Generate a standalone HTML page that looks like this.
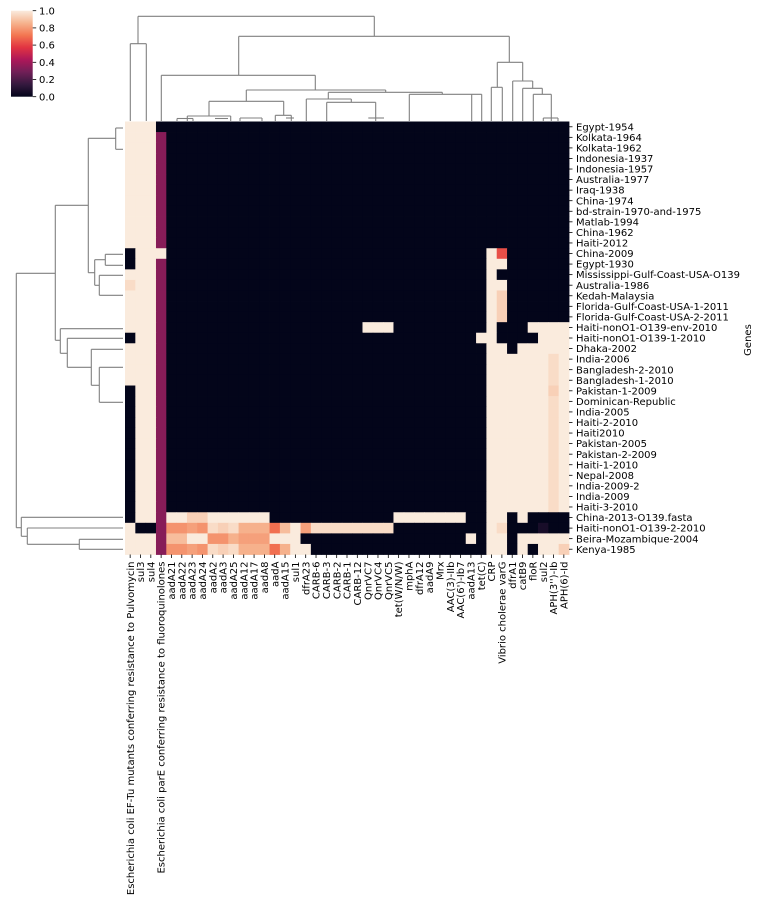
<!DOCTYPE html>
<html><head><meta charset="utf-8">
<style>
html,body{margin:0;padding:0;background:#fff;}
svg{display:block;font-family:"DejaVu Sans","Liberation Sans",sans-serif;}
</style></head>
<body>
<svg id="chart" width="761" height="905" viewBox="0 0 761 905" xmlns="http://www.w3.org/2000/svg">
  <defs>
    <linearGradient id="cbgrad" x1="0" y1="1" x2="0" y2="0">
      <stop offset="0" stop-color="#03051a"/>
      <stop offset="0.143" stop-color="#35193e"/>
      <stop offset="0.286" stop-color="#701f57"/>
      <stop offset="0.429" stop-color="#ad1759"/>
      <stop offset="0.571" stop-color="#e13342"/>
      <stop offset="0.714" stop-color="#f37651"/>
      <stop offset="0.857" stop-color="#f6b48f"/>
      <stop offset="1" stop-color="#faebdd"/>
    </linearGradient>
  </defs>
  <g id="colorbar">
    <rect x="11" y="10.7" width="21.7" height="86" fill="url(#cbgrad)"/>
  </g>
  <g id="heatmap"></g>
  <g id="rowlabels"></g>
  <g id="collabels"></g>
  <g id="topdendro" stroke="#808080" stroke-width="1.1" fill="none"></g>
  <g id="leftdendro" stroke="#808080" stroke-width="1.1" fill="none"></g>
  <text x="751" y="340" font-size="10" text-anchor="middle" transform="rotate(-90 751 340)" fill="#000">Genes</text>
</svg>
<script>
const rowLabels = ["Egypt-1954","Kolkata-1964","Kolkata-1962","Indonesia-1937","Indonesia-1957","Australia-1977","Iraq-1938","China-1974","bd-strain-1970-and-1975","Matlab-1994","China-1962","Haiti-2012","China-2009","Egypt-1930","Mississippi-Gulf-Coast-USA-O139","Australia-1986","Kedah-Malaysia","Florida-Gulf-Coast-USA-1-2011","Florida-Gulf-Coast-USA-2-2011","Haiti-nonO1-O139-env-2010","Haiti-nonO1-O139-1-2010","Dhaka-2002","India-2006","Bangladesh-2-2010","Bangladesh-1-2010","Pakistan-1-2009","Dominican-Republic","India-2005","Haiti-2-2010","Haiti2010","Pakistan-2005","Pakistan-2-2009","Haiti-1-2010","Nepal-2008","India-2009-2","India-2009","Haiti-3-2010","China-2013-O139.fasta","Haiti-nonO1-O139-2-2010","Beira-Mozambique-2004","Kenya-1985"];
const colLabels = ["Escherichia coli EF-Tu mutants conferring resistance to Pulvomycin","sul3","sul4","Escherichia coli parE conferring resistance to fluoroquinolones","aadA21","aadA22","aadA23","aadA24","aadA2","aadA3","aadA25","aadA12","aadA17","aadA8","aadA","aadA15","sul1","dfrA23","CARB-6","CARB-3","CARB-2","CARB-1","CARB-12","QnrVC7","QnrVC4","QnrVC5","tet(W/N/W)","mphA","dfrA12","aadA9","Mrx","AAC(3)-IIb","AAC(6')-Ib7","aadA13","tet(C)","CRP","Vibrio cholerae varG","dfrA1","catB9","floR","sul2","APH(3'')-Ib","APH(6)-Id"];
const cellCodes = {"0":0,"s":0.06,"p":0.34,"r":0.63,"k":0.70,"o":0.78,"h":0.81,"q":0.85,"t":0.88,"n":0.93,"m":0.96,"L":1};
const Z = "0";
const rowData = [
"LLL0"+Z.repeat(39),
"LLLp"+Z.repeat(39),"LLLp"+Z.repeat(39),"LLLp"+Z.repeat(39),"LLLp"+Z.repeat(39),"LLLp"+Z.repeat(39),
"LLLp"+Z.repeat(39),"LLLp"+Z.repeat(39),"LLLp"+Z.repeat(39),"LLLp"+Z.repeat(39),"LLLp"+Z.repeat(39),
"LLLp"+Z.repeat(39),
"0LLL"+Z.repeat(31)+"Lr000000",
"0LLp"+Z.repeat(31)+"LL000000",
"LLLp"+Z.repeat(31)+"L0000000",
"mLLp"+Z.repeat(31)+"LL000000",
"LLLp"+Z.repeat(31)+"Ln000000",
"LLLp"+Z.repeat(31)+"Ln000000",
"LLLp"+Z.repeat(31)+"Ln000000",
"LLLp"+Z.repeat(19)+"LLL"+Z.repeat(9)+"L000LLLL",
"0LLp"+Z.repeat(30)+"L"+"L0000LLL",
"LLLp"+Z.repeat(31)+"LL0LLLLL",
"LLLp"+Z.repeat(31)+"LLLLLLmL",
"LLLp"+Z.repeat(31)+"LLLLLLmL",
"LLLp"+Z.repeat(31)+"LLLLLLmL",
"0LLp"+Z.repeat(31)+"LLLLLLnL",
"0LLp"+Z.repeat(31)+"LLLLLLmL","0LLp"+Z.repeat(31)+"LLLLLLmL","0LLp"+Z.repeat(31)+"LLLLLLmL",
"0LLp"+Z.repeat(31)+"LLLLLLmL","0LLp"+Z.repeat(31)+"LLLLLLmL","0LLp"+Z.repeat(31)+"LLLLLLmL",
"0LLp"+Z.repeat(31)+"LLLLLLmL","0LLp"+Z.repeat(31)+"LLLLLLmL","0LLp"+Z.repeat(31)+"LLLLLLmL",
"0LLp"+Z.repeat(31)+"LLLLLLmL","0LLp"+Z.repeat(31)+"LLLLLLmL",
"0LLp"+"LLnnLLLLLL"+Z.repeat(12)+"LLLLLLL"+"00"+"LL0L0000",
"L00p"+"oohomnmqqqktLh"+"mmmmmmmm"+Z.repeat(9)+"Lm000s00",
"LLLp"+"ttLLooqhhhLLL"+Z.repeat(16)+"L0"+"LL0LLLLL",
"LLLp"+"oohomnmqqqkqLL"+Z.repeat(17)+"LL0L0LLn"
];
const cbTicks = [0.0,0.2,0.4,0.6,0.8,1.0];

const NS="http://www.w3.org/2000/svg";
const HX0=125, HX1=569, HY0=121.5, HY1=554.5;
const nR=rowLabels.length, nC=colLabels.length;
const cw=(HX1-HX0)/nC, rh=(HY1-HY0)/nR;
function xCol(c){return HX0+c*cw;}
function yRow(r){return HY0+r*rh;}
const CB_Y0=96.7, CB_Y1=10.7;
function yCb(v){return CB_Y0+(CB_Y1-CB_Y0)*v;}
const stops=[[0,[3,5,26]],[0.143,[53,25,62]],[0.286,[112,31,87]],[0.429,[173,23,89]],[0.571,[225,51,66]],[0.714,[243,118,81]],[0.857,[246,180,143]],[1,[250,235,221]]];
function cmap(v){
  v=Math.max(0,Math.min(1,v));
  for(let i=0;i<stops.length-1;i++){
    const a=stops[i],b=stops[i+1];
    if(v<=b[0]){const t=(v-a[0])/(b[0]-a[0]);
      const c=a[1].map((x,k)=>Math.round(x+(b[1][k]-x)*t));
      return "rgb("+c.join(",")+")";}
  }
  return "rgb(250,235,221)";
}
function mk(tag,attrs,parent){const e=document.createElementNS(NS,tag);for(const k in attrs)e.setAttribute(k,attrs[k]);parent.appendChild(e);return e;}

const hm=document.getElementById("heatmap");
for(let r=0;r<nR;r++){
  const row=rowData[r];
  for(let c=0;c<nC;c++){
    const v=cellCodes[row[c]]||0;
    const el=mk("rect",{x:xCol(c).toFixed(2),y:yRow(r).toFixed(2),width:(cw+0.4).toFixed(2),height:(rh+0.4).toFixed(2),fill:cmap(v)},hm);
    
    
  }
}
const rl=document.getElementById("rowlabels");
for(let r=0;r<nR;r++){
  const y=yRow(r)+rh/2;
  const t=mk("line",{x1:HX1,x2:HX1+3.5,y1:y,y2:y,stroke:"#000","stroke-width":0.8},rl);
  
  
  const tx=mk("text",{x:HX1+7,y:y+3.6,"font-size":10,fill:"#000"},rl);
  tx.textContent=rowLabels[r];
  
  
}
const cl=document.getElementById("collabels");
for(let c=0;c<nC;c++){
  const x=xCol(c)+cw/2;
  const t=mk("line",{x1:x,x2:x,y1:HY1,y2:HY1+3.5,stroke:"#000","stroke-width":0.8},cl);
  
  
  const y=HY1+7;
  const tx=mk("text",{x:x+3.6,y:y,"font-size":10,fill:"#000","text-anchor":"end",transform:"rotate(-90 "+(x+3.6)+" "+y+")"},cl);
  tx.textContent=colLabels[c];
  
  
}
const cb=document.getElementById("colorbar");
cbTicks.forEach(v=>{
  const y=yCb(v);
  const t=mk("line",{x1:32.7,x2:36.2,y1:y,y2:y,stroke:"#000","stroke-width":0.8},cb);
  
  
  const tx=mk("text",{x:39,y:y+3.6,"font-size":10,fill:"#000"},cb);
  tx.textContent=v.toFixed(1);
  
  
});
// dendrogram segments (structural lines)
const topSegs=[
[138,16.3,374.3,16.3],[138,16.3,138,43.7],[130.3,43.7,146.3,43.7],[130.3,43.7,130.3,121],[146.3,43.7,146.3,121],
[374.3,16.3,374.3,36.3],[238.7,36.3,509.3,36.3],
[509.3,36.3,509.3,62.3],[497.3,62.3,522.7,62.3],[497.3,62.3,497.3,87.3],[491.3,87.3,502.3,87.3],[491.3,87.3,491.3,121],[502.3,87.3,502.3,121],
[522.7,62.3,522.7,81],[512.7,81,532.7,81],[512.7,81,512.7,121],[532.7,81,532.7,88.3],[522.7,88.3,542.3,88.3],[522.7,88.3,522.7,121],
[542.3,88.3,542.3,94.3],[533.3,94.3,551.3,94.3],[533.3,94.3,533.3,121],[551.3,94.3,551.3,121],[543.3,118,558,118],[543.3,118,543.3,121],[558,118,558,121],
[238.7,36.3,238.7,75.3],[161.3,75.3,315.3,75.3],[161.3,75.3,161.3,121],[315.3,75.3,315.3,90],[246.3,90,385.7,90],
[246.3,90,246.3,101.3],[209,101.3,283.7,101.3],[209,101.3,209,116],[187.3,116,230.7,116],[187.3,116,187.3,121],[230.7,116,230.7,121],
[177,118.5,193,118.5],[177,118.5,177,121],[193,118.5,193,121],[215,118.5,228,118.5],[240,118,262,118],[240,118,240,121],[262,118,262,121],
[283.7,101.3,283.7,115.3],[275.3,115.3,291.3,115.3],[275.3,115.3,275.3,121],[291.3,115.3,291.3,121],[286,118,294,118],
[385.7,90,385.7,92.3],[328.3,92.3,442.3,92.3],[328.3,92.3,328.3,99],[306.3,99,351.3,99],[306.3,99,306.3,121],
[351.3,99,351.3,102.3],[326.7,102.3,375.7,102.3],[326.7,102.3,326.7,121],[375.7,102.3,375.7,121],[368.3,118,384,118],
[442.3,92.3,442.3,94.3],[409.3,94.3,481.7,94.3],[409.3,94.3,409.3,121],[471.7,94.3,471.7,121],[481.7,94.3,481.7,121]
];
const leftSegs=[
[115.7,128,123,128],[115.7,128,115.7,149.3],[115.7,149.3,123,149.3],[88.3,138.3,115.7,138.3],
[88.3,138.3,88.3,272.7],[88.3,272.7,94.7,272.7],[94.7,259.7,94.7,285.3],
[94.7,259.7,105.3,259.7],[105.3,254.3,105.3,265.3],[105.3,254.3,123,254.3],[105.3,265.3,123,265.3],
[94.7,285.3,99.3,285.3],[99.3,275.3,99.3,295.3],[99.3,275.3,123,275.3],[99.3,295.3,123,295.3],
[55.3,205.3,88.3,205.3],[55.3,205.3,55.3,340.3],[55.3,340.3,60.3,340.3],[60.3,328.7,60.3,353.3],[60.3,328.7,123,328.7],
[60.3,353.3,67.3,353.3],[67.3,338.3,67.3,367.3],[67.3,338.3,123,338.3],[67.3,367.3,91.3,367.3],
[91.3,349.3,91.3,385.3],[91.3,349.3,123,349.3],[91.3,385.3,99.3,385.3],[99.3,367.3,99.3,402.3],[99.3,367.3,123,367.3],[99.3,402.3,123,402.3],
[16.3,273.3,55.3,273.3],[16.3,273.3,16.3,527.7],[16.3,527.7,21.3,527.7],[21.3,517.3,21.3,536.3],[21.3,517.3,123,517.3],
[21.3,536.3,27.3,536.3],[27.3,528,27.3,544.3],[27.3,528,123,528],[27.3,544.3,79.3,544.3],[79.3,539.3,79.3,549.3],[79.3,539.3,123,539.3],[79.3,549.3,123,549.3]
];
const td=document.getElementById("topdendro"), ld=document.getElementById("leftdendro");
topSegs.forEach(s=>{const e=mk("line",{x1:s[0],y1:s[1],x2:s[2],y2:s[3]},td);
  
  });
leftSegs.forEach(s=>{const e=mk("line",{x1:s[0],y1:s[1],x2:s[2],y2:s[3]},ld);
  
  });
</script>
</body></html>
